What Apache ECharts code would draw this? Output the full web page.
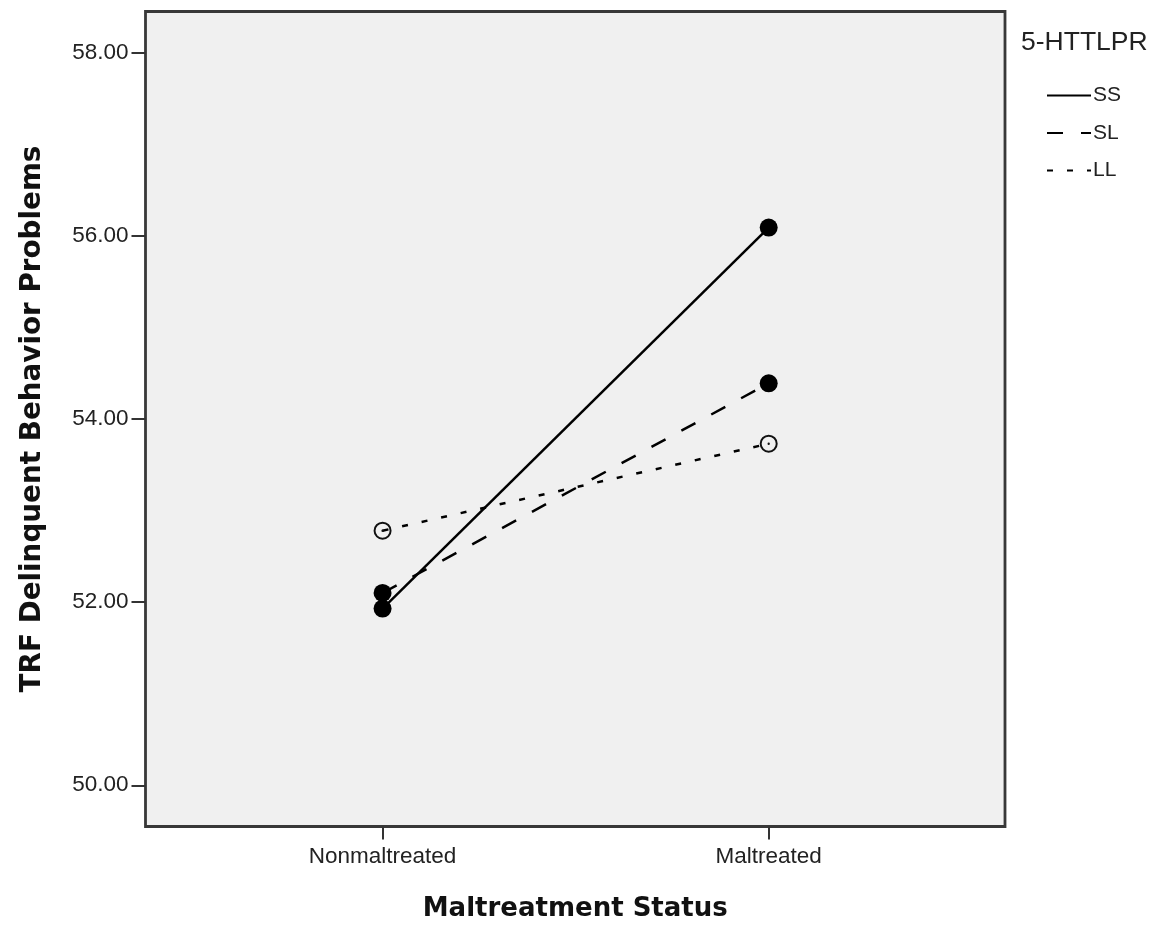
<!DOCTYPE html>
<html>
<head>
<meta charset="utf-8">
<style>
  html, body { margin: 0; padding: 0; background: #ffffff; }
  #chart { width: 1166px; height: 936px; }
</style>
<script src="https://cdn.jsdelivr.net/npm/echarts@6/dist/echarts.min.js"></script>
</head>
<body>
<div id="chart"></div>
<script>
// Estimated marginal means of TRF delinquent behavior by maltreatment status and genotype
const categories = ['Nonmaltreated', 'Maltreated'];
const categoryPositions = [1, 2];
const seriesNames = ['SS', 'SL', 'LL'];
const ssValues = [51.93, 56.09];
const slValues = [52.10, 54.39];
const llValues = [52.78, 53.73];
const yTickValues = [50, 52, 54, 56, 58];
const legendTitle = '5-HTTLPR';
const xAxisTitle = 'Maltreatment Status';
const yAxisTitle = 'TRF Delinquent Behavior Problems';

const pairs = vals => vals.map((v, i) => [categoryPositions[i], v]);

// open ring with a small centre dot
const ringDot = 'path://M10 0A10 10 0 1 1 10 20A10 10 0 1 1 10 0Z' +
  'M10 2.2A7.8 7.8 0 1 0 10 17.8A7.8 7.8 0 1 0 10 2.2Z' +
  'M10 8.7A1.3 1.3 0 1 1 10 11.3A1.3 1.3 0 1 1 10 8.7Z';

const chart = echarts.init(document.getElementById('chart'), null, { renderer: 'canvas' });

const tickFont = { fontFamily: 'Liberation Sans', fontSize: 22.5, color: '#222' };
const titleFont = { fontFamily: 'DejaVu Sans', fontWeight: 'bold', fontSize: 26, color: '#111' };

chart.setOption({
  animation: false,
  backgroundColor: '#ffffff',
  title: {
    text: legendTitle,
    left: 1021,
    top: 29,
    padding: 0,
    textStyle: { fontFamily: 'Liberation Sans', fontWeight: 'normal', fontSize: 26.5, color: '#222' }
  },
  legend: {
    data: seriesNames,
    orient: 'vertical',
    left: 1046,
    top: 85,
    padding: 0,
    itemWidth: 44,
    itemHeight: 20,
    itemGap: 16.5,
    itemStyle: { opacity: 0 },
    textStyle: { fontFamily: 'Liberation Sans', fontSize: 21, color: '#222', padding: [0, 0, 0, -3] }
  },
  grid: {
    left: 145.5,
    right: 161,
    top: 11.5,
    bottom: 109.5,
    show: true,
    backgroundColor: '#f0f0f0',
    borderColor: '#383838',
    borderWidth: 2.8
  },
  xAxis: {
    type: 'value',
    min: 0.386,
    max: 2.612,
    name: xAxisTitle,
    nameLocation: 'middle',
    nameGap: 70,
    nameTextStyle: titleFont,
    axisLine: { show: false },
    splitLine: { show: false },
    axisTick: {
      show: true,
      length: 13,
      customValues: categoryPositions,
      lineStyle: { color: '#333', width: 2 }
    },
    axisLabel: {
      customValues: categoryPositions,
      margin: 19,
      formatter: v => categories[categoryPositions.indexOf(v)] || '',
      ...tickFont
    }
  },
  yAxis: {
    type: 'value',
    min: 49.55,
    max: 58.45,
    name: yAxisTitle,
    nameLocation: 'middle',
    nameGap: 99,
    nameTextStyle: { ...titleFont, fontSize: 27.8 },
    axisLine: { show: false },
    splitLine: { show: false },
    axisTick: {
      show: true,
      length: 14,
      customValues: yTickValues,
      lineStyle: { color: '#333', width: 2 }
    },
    axisLabel: {
      customValues: yTickValues,
      margin: 17,
      formatter: v => v.toFixed(2),
      ...tickFont
    }
  },
  series: [
    {
      name: 'SS',
      type: 'line',
      data: pairs(ssValues),
      symbol: 'circle',
      symbolSize: 18,
      itemStyle: { color: '#000' },
      lineStyle: { color: '#000', width: 2.5, type: 'solid' },
      z: 3
    },
    {
      name: 'SL',
      type: 'line',
      data: pairs(slValues),
      symbol: 'circle',
      symbolSize: 18,
      itemStyle: { color: '#000' },
      lineStyle: { color: '#000', width: 2.5, type: [16, 18] },
      z: 4
    },
    {
      name: 'LL',
      type: 'line',
      data: pairs(llValues),
      symbol: ringDot,
      symbolSize: 18,
      itemStyle: { color: '#111' },
      lineStyle: { color: '#000', width: 2.5, type: [6, 14] },
      z: 2
    }
  ]
});
</script>
</body>
</html>
